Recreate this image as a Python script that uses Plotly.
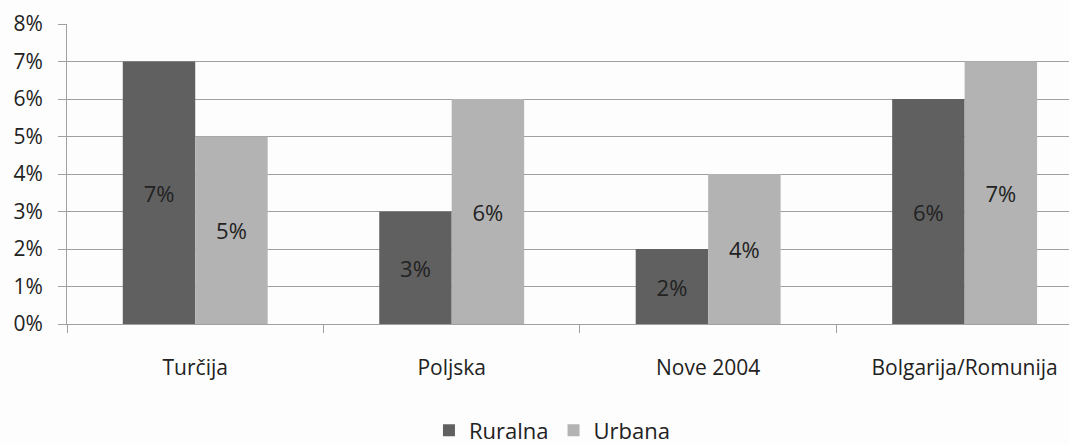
import plotly.graph_objects as go

categories = ["Turčija", "Poljska", "Nove 2004", "Bolgarija/Romunija"]
ruralna = [0.07, 0.03, 0.02, 0.06]
urbana = [0.05, 0.06, 0.04, 0.07]
y_ticks = [0, 0.01, 0.02, 0.03, 0.04, 0.05, 0.06, 0.07, 0.08]
y_ticklabels = ["0%", "1%", "2%", "3%", "4%", "5%", "6%", "7%", "8%"]

FONT = "Open Sans"
TXT = "#222222"
W, H = 1069, 445
L, T, B = 67, 24, 121

fig = go.Figure()
fig.add_trace(go.Bar(
    name="Ruralna", x=categories, y=ruralna, marker_color="#606060",
    marker_line_width=0,
    text=[f"{v*100:.0f}%" for v in ruralna], textposition="inside",
    insidetextanchor="middle", textangle=0,
    textfont=dict(family=FONT, size=22, color=TXT),
))
fig.add_trace(go.Bar(
    name="Urbana", x=categories, y=urbana, marker_color="#b3b3b3",
    marker_line_width=0,
    text=[f"{v*100:.0f}%" for v in urbana], textposition="inside",
    insidetextanchor="middle", textangle=0,
    textfont=dict(family=FONT, size=22, color=TXT),
))

fig.update_layout(
    width=W, height=H,
    margin=dict(l=L, r=0, t=T, b=B, pad=0, autoexpand=False),
    paper_bgcolor="#fdfdfd", plot_bgcolor="#fdfdfd",
    barmode="group", bargap=0.435, bargroupgap=0,
    font=dict(family=FONT, size=21, color=TXT),
    legend=dict(orientation="h", x=0.484, xanchor="center", y=-0.355, yanchor="middle",
                font=dict(family=FONT, size=22, color=TXT),
                itemwidth=30, tracegroupgap=0, bgcolor="rgba(0,0,0,0)"),
)
fig.update_xaxes(
    type="category", range=[-0.5, 3.407],
    showline=True, linecolor="#a0a0a0", linewidth=1,
    ticks="outside", tickson="boundaries", ticklen=8, tickcolor="#a0a0a0",
    showgrid=False, ticklabelstandoff=25,
    tickfont=dict(family=FONT, size=21, color=TXT),
)
fig.update_yaxes(
    range=[0, 0.08], tickvals=y_ticks, ticktext=y_ticklabels,
    showline=True, linecolor="#a0a0a0", linewidth=1,
    showgrid=True, gridcolor="#a0a0a0", gridwidth=1,
    ticks="outside", ticklen=8, tickcolor="#a0a0a0",
    ticklabelstandoff=11, zeroline=False,
    tickfont=dict(family=FONT, size=21, color=TXT),
)

fig.write_html("out.html", config={"displayModeBar": False},
               post_script="document.body.style.margin='0';document.body.style.overflow='hidden';")
